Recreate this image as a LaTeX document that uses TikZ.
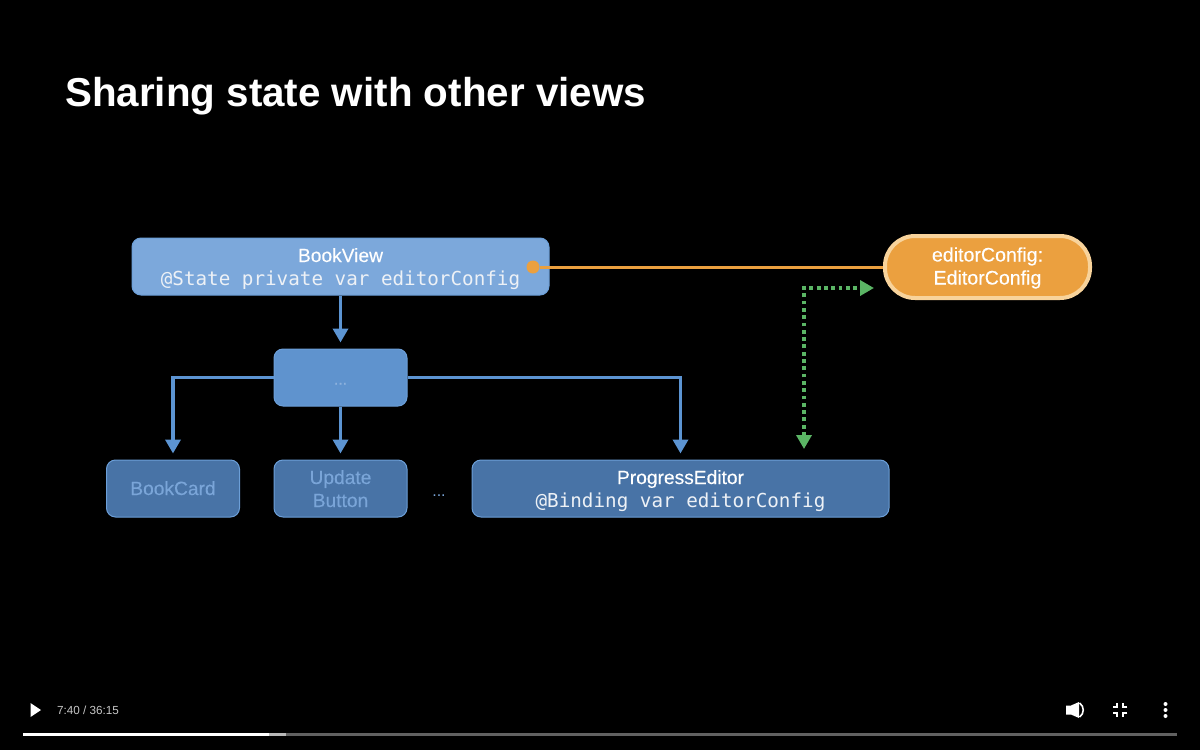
\documentclass[tikz,border=0pt]{standalone}
\usepackage{fontspec}
\setmainfont{Liberation Sans}
\newfontfamily\codefont{DejaVu Sans Mono}
\newfontfamily\labelfont[FakeBold=0.25]{Liberation Sans}
\usetikzlibrary{arrows.meta}
\definecolor{topfill}{HTML}{7CA8DB}
\definecolor{midfill}{HTML}{5F93CE}
\definecolor{lowfill}{HTML}{4873A6}
\definecolor{boxedge}{HTML}{6C9FD8}
\definecolor{wire}{HTML}{5C94D2}
\definecolor{dimtext}{HTML}{7AA5D8}
\definecolor{amber}{HTML}{EBA03F}
\definecolor{amberedge}{HTML}{F8D39B}
\definecolor{leaf}{HTML}{5BB565}
% a label line whose baseline sits a fixed distance below its nominal place
\newcommand{\lowered}[2]{\smash{\raisebox{-#1pt}{#2}}}
\newcommand{\codeline}[1]{{\codefont\fontsize{19.25}{23}\selectfont\color{white!90!lowfill}#1}}
\tikzset{
  x=1pt,y=-1pt,
  viewbox/.style={draw=boxedge,line width=1pt,rounded corners=9pt,inner sep=0pt,align=center,text=white,font=\labelfont\fontsize{19.2}{23}\selectfont},
  flow/.style={draw=wire,line width=3.6pt,-{Triangle[width=15pt,length=14pt]},shorten >=6pt},
  sync/.style={draw=leaf,line width=3.8pt,dash pattern=on 3.8pt off 3.5pt,{Triangle[width=15pt,length=14pt]}-{Triangle[width=15pt,length=14pt]}},
  ctrl/.style={fill=white,draw=none},
  iconline/.style={white,line width=2pt},
}
\begin{document}
\begin{tikzpicture}
\useasboundingbox[fill=black] (0,0) rectangle (1200,750);
\node[anchor=base west,text=white,inner sep=0pt,font=\fontsize{40.35}{48}\selectfont\bfseries] (title) at (65,106) {Sharing state with other views};

% view hierarchy boxes
\node[viewbox,fill=topfill,minimum width=417pt,minimum height=57pt] (book) at (340.5,266.5)
  {\lowered{7}{BookView}\\\lowered{7}{\codeline{@State private var editorConfig}}};
\node[viewbox,fill=midfill,minimum width=133pt,minimum height=57pt,text=dimtext!85!white] (mid) at (340.5,377.5) {\lowered{7}{\fontsize{16}{18}\selectfont ...}};
\node[viewbox,fill=lowfill,minimum width=133pt,minimum height=57pt,text=dimtext] (card) at (173,488.5) {\lowered{6.5}{BookCard}};
\node[viewbox,fill=lowfill,minimum width=133pt,minimum height=57pt,text=dimtext] (update) at (340.5,488.5) {\lowered{7}{Update}\\\lowered{7}{Button}};
\node[anchor=base,text=dimtext,inner sep=0pt,font=\fontsize{16}{18}\selectfont] (more) at (439,496.5) {...};
\node[viewbox,fill=lowfill,minimum width=417pt,minimum height=57pt] (progress) at (680.5,488.5)
  {\lowered{7}{ProgressEditor}\\\lowered{7}{\codeline{@Binding var editorConfig}}};

% state pill and its link to the owning view
\node[draw=amberedge,fill=amber,line width=4pt,rounded corners=30pt,minimum width=205pt,minimum height=62pt,inner sep=0pt,align=center,text=white,font=\labelfont\fontsize{19.6}{23}\selectfont] (state) at (987.5,267) {\lowered{6}{editorConfig:}\\\lowered{6}{EditorConfig}};
\node[circle,fill=amber,minimum size=13pt,inner sep=0pt] (dot) at (533,267) {};
\draw[amber,line width=3pt] (dot) -- (state);

% flow arrows
\draw[flow] (book) -- (mid);
\draw[flow] (mid.west) -| (card.north);
\draw[flow] (mid) -- (update);
\draw[flow] (mid.east) -| (progress.north);

% two-way data flow
\coordinate (syncdown) at (804,449);
\coordinate (syncright) at (874,288);
\draw[sync] (syncdown) |- (syncright);

% player controls
\fill[ctrl] (30.5,703) -- (41,710) -- (30.5,717) -- cycle;
\node[anchor=base west,inner sep=0pt,text=white!78!black,font=\fontsize{11.7}{14}\selectfont] (time) at (57,714) {7:40 / 36:15};
\coordinate (barstart) at (23,734);
\coordinate (barplay) at (269,734);
\coordinate (barload) at (286,734);
\coordinate (barend) at (1177,734);
\draw[white!38!black,line width=3pt] (barload) -- (barend);
\draw[white!72!black,line width=3pt] (barplay) -- (barload);
\draw[white,line width=3pt] (barstart) -- (barplay);
% volume
\fill[ctrl] (1066,705.5) -- (1071,705.5) -- (1079,702) -- (1079,718) -- (1071,714.5) -- (1066,714.5) -- cycle;
\draw[white,line width=1.6pt] (1079.5,703) .. controls (1084.5,706) and (1084.5,714) .. (1079.5,717);
% collapse
\draw[iconline] (1113.2,707.3) -- (1117.3,707.3) -- (1117.3,703);
\draw[iconline] (1127.4,707.3) -- (1123.3,707.3) -- (1123.3,703);
\draw[iconline] (1113.2,713) -- (1117.3,713) -- (1117.3,717.2);
\draw[iconline] (1127.4,713) -- (1123.3,713) -- (1123.3,717.2);
% overflow menu
\fill[ctrl] (1165.5,704) circle[radius=2];
\fill[ctrl] (1165.5,710) circle[radius=2];
\fill[ctrl] (1165.5,716) circle[radius=2];
\end{tikzpicture}
\end{document}
